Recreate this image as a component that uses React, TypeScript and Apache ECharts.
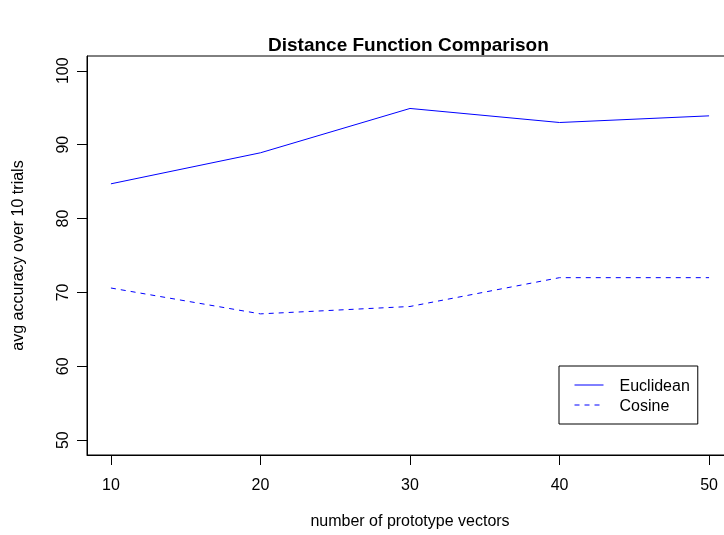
import React, { useEffect, useRef } from "react";
import * as echarts from "echarts";

// Number of prototype vectors on the x axis
const prototypes = [10, 20, 30, 40, 50];
// Average accuracy over 10 trials for each distance function
const euclidean = [84.7, 88.9, 94.9, 93.0, 93.9];
const cosine = [70.6, 67.1, 68.1, 72.0, 72.0];
// Tick positions
const xTicks = [10, 20, 30, 40, 50];
const yTicks = [50, 60, 70, 80, 90, 100];

const FONT = "'Liberation Sans', Arial, Helvetica, sans-serif";

export default function App() {
  const ref = useRef<HTMLDivElement>(null);

  useEffect(() => {
    if (!ref.current) return;
    const chart = echarts.init(ref.current, undefined, { renderer: "svg" });
    chart.setOption({
      animation: false,
      title: {
        text: "Distance Function Comparison",
        left: 268,
        top: 35,
        padding: 0,
        textStyle: { fontFamily: FONT, fontSize: 19, fontWeight: "bold", color: "#000" },
      },
      grid: {
        left: 87,
        top: 56,
        width: 646,
        height: 399,
        outerBoundsMode: "none",
        show: true,
        borderColor: "#000",
        borderWidth: 1,
      },
      legend: {
        orient: "vertical",
        left: 559,
        top: 366,
        padding: [9, 8, 9, 15],
        itemWidth: 29,
        itemHeight: 14,
        itemGap: 0,
        borderColor: "#000",
        borderWidth: 1,
        backgroundColor: "#fff",
        itemStyle: { opacity: 0 },
        lineStyle: { width: 1 },
        textStyle: {
          fontFamily: FONT,
          fontSize: 16,
          color: "#000",
          lineHeight: 20,
          padding: [0, 0, 0, 11],
        },
        data: ["Euclidean", "Cosine"],
      },
      xAxis: {
        type: "value",
        min: 8.4,
        max: 51.6,
        name: "number of prototype vectors",
        nameLocation: "middle",
        nameGap: 57,
        nameTextStyle: { fontFamily: FONT, fontSize: 16, color: "#000" },
        axisLine: { show: true, onZero: false, lineStyle: { color: "#000", width: 1 } },
        splitLine: { show: false },
        axisTick: { show: true, length: 10, customValues: xTicks },
        axisLabel: {
          customValues: xTicks,
          margin: 21,
          fontFamily: FONT,
          fontSize: 16,
          color: "#000",
        },
      },
      yAxis: {
        type: "value",
        min: 48,
        max: 102,
        name: "avg accuracy over 10 trials",
        nameLocation: "middle",
        nameGap: 62,
        nameTextStyle: { fontFamily: FONT, fontSize: 16, color: "#000" },
        axisLine: { show: true, onZero: false, lineStyle: { color: "#000", width: 1 } },
        splitLine: { show: false },
        axisTick: { show: true, length: 10, customValues: yTicks },
        axisLabel: {
          customValues: yTicks,
          rotate: 90,
          margin: 17,
          fontSize: 16,
          color: "#000",
        },
      },
      series: [
        {
          name: "Euclidean",
          type: "line",
          data: prototypes.map((p, i) => [p, euclidean[i]]),
          symbol: "none",
          showSymbol: false,
          lineStyle: { color: "#0000ff", width: 1, type: "solid" },
          itemStyle: { color: "#0000ff" },
        },
        {
          name: "Cosine",
          type: "line",
          data: prototypes.map((p, i) => [p, cosine[i]]),
          symbol: "none",
          showSymbol: false,
          lineStyle: { color: "#0000ff", width: 1, type: [5, 5] },
          itemStyle: { color: "#0000ff" },
        },
      ],
    });
    return () => chart.dispose();
  }, []);

  return (
    <div
      ref={ref}
      style={{ position: "fixed", left: 0, top: 0, width: 724, height: 535 }}
    />
  );
}
